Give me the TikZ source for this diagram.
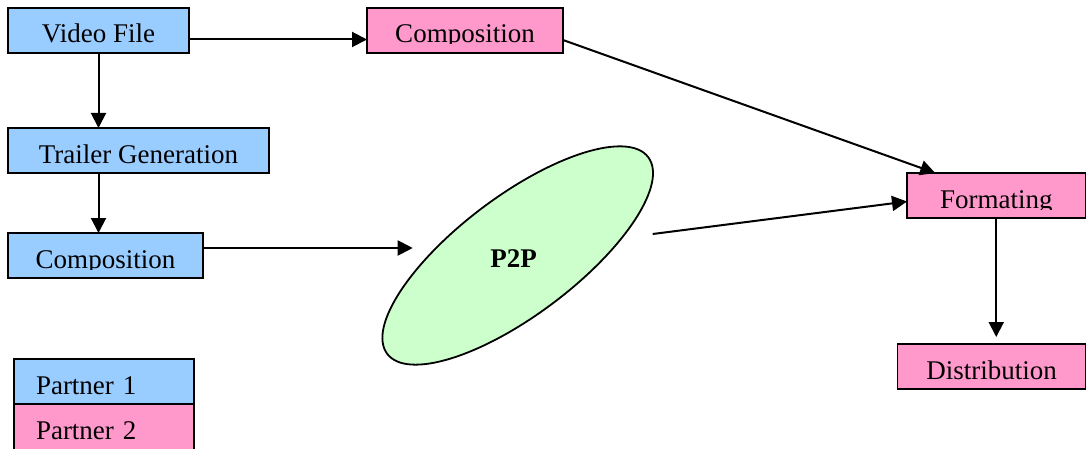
\documentclass[tikz,border=0pt]{standalone}
\usepackage{fontspec}
\setmainfont{Liberation Serif}
\usepackage{tikz}
\usetikzlibrary{arrows.meta,positioning,shapes.geometric}
\definecolor{partnerone}{RGB}{153,204,255}
\definecolor{partnertwo}{RGB}{255,153,204}
\definecolor{ptpgreen}{RGB}{204,255,204}

\begin{document}
\begin{tikzpicture}[font=\fontsize{13.5pt}{16pt}\selectfont, >={Triangle[length=7.5pt,width=7.5pt]}]
\tikzstyle{box}=[draw, line width=0.9pt, minimum height=22.5pt, inner xsep=0pt, inner ysep=0pt, outer sep=0pt, text height=17.5pt, text depth=5pt]
\tikzstyle{bbox}=[box, fill=partnerone]
\tikzstyle{pbox}=[box, fill=partnertwo]
\tikzstyle{legend}=[text width=68pt, inner xsep=11pt, align=left]
\tikzstyle{ptp}=[ellipse, draw, line width=0.9pt, fill=ptpgreen, minimum width=163.4pt, minimum height=59.3pt, inner sep=0pt, rotate=37]
\tikzstyle{arr}=[->, line width=1pt]
\useasboundingbox (0,0) rectangle (543pt,-224.5pt);
\node[bbox, minimum width=90.5pt, anchor=north west] (video) at (4pt,-4pt) {Video File};
\node[pbox, minimum width=98pt, right=89pt of video] (compt) {Composition};
\node[bbox, minimum width=130.5pt, below=37.5pt of video.south west, anchor=north west] (trailer) {Trailer Generation};
\node[bbox, minimum width=97.5pt, below=30pt of trailer.south west, anchor=north west] (compb) {Composition};
\node[ptp] (p2p) at (258.85pt,-127.75pt) {};
\node[font=\fontsize{13.5pt}{16pt}\selectfont\bfseries] (p2ptext) at ([xshift=-2pt,yshift=-1.75pt]p2p.center) {P2P};
\node[pbox, minimum width=89.25pt, anchor=north west] (format) at (453.5pt,-86.5pt) {Formating};
\node[pbox, minimum width=94pt, below=63pt of format.south east, anchor=north east] (distrib) {Distribution};
\node[bbox, legend, anchor=north west] (partner1) at (7pt,-179.5pt) {Partner 1};
\node[pbox, legend, minimum height=23pt, below=0pt of partner1.south west, anchor=north west] (partner2) {Partner 2};
% text area of each box ends at the baseline
\foreach \b/\c in {video/partnerone, compt/partnertwo, trailer/partnerone, compb/partnerone, format/partnertwo, distrib/partnertwo}
  \fill[\c] ([shift={(0.45pt,0.45pt)}]\b.south west) rectangle ([shift={(-0.45pt,4.25pt)}]\b.south east);
\coordinate (p2pin) at ([xshift=-52.5pt,yshift=3.75pt]p2p.center);
\coordinate (p2pout) at ([xshift=67.5pt,yshift=10.75pt]p2p.center);
\draw[arr] ([yshift=-4.5pt]video.east) -- ([yshift=-4.5pt]compt.west);
\draw[arr] (video.south) -- (video.south |- trailer.north);
\draw[arr] (video.south |- trailer.south) -- (video.south |- compb.north);
\draw[arr] (compb.east |- p2pin) -- (p2pin);
\draw[arr] ([yshift=-4.75pt]compt.east) -- ([xshift=-30.5pt]format.north);
\draw[arr] (p2pout) -- ([yshift=-3pt]format.west);
\draw[arr, shorten >=3.5pt] (format.south) -- (format.south |- distrib.north);
\end{tikzpicture}
\end{document}
